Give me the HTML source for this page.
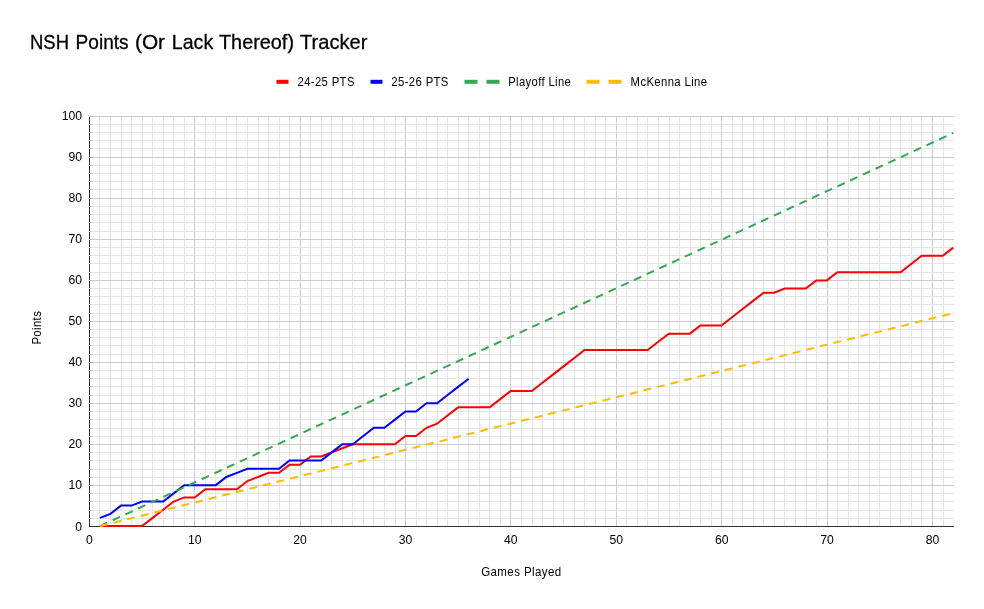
<!DOCTYPE html>
<html><head><meta charset="utf-8"><title>NSH Points Tracker</title>
<style>html,body{margin:0;padding:0;background:#fff;width:984px;height:609px;overflow:hidden}svg{display:block;position:absolute;left:0;top:0}.t{filter:grayscale(1);}</style>
</head><body><svg width="984" height="609" viewBox="0 0 984 609"><rect width="984" height="609" fill="#fff"/><rect x="89" y="116" width="1" height="410" fill="#333333"/><rect x="99" y="116" width="1" height="410" fill="#e5e5e5"/><rect x="110" y="116" width="1" height="410" fill="#e5e5e5"/><rect x="121" y="116" width="1" height="410" fill="#e5e5e5"/><rect x="131" y="116" width="1" height="410" fill="#e5e5e5"/><rect x="142" y="116" width="1" height="410" fill="#e5e5e5"/><rect x="152" y="116" width="1" height="410" fill="#e5e5e5"/><rect x="163" y="116" width="1" height="410" fill="#e5e5e5"/><rect x="173" y="116" width="1" height="410" fill="#e5e5e5"/><rect x="184" y="116" width="1" height="410" fill="#e5e5e5"/><rect x="205" y="116" width="1" height="410" fill="#e5e5e5"/><rect x="215" y="116" width="1" height="410" fill="#e5e5e5"/><rect x="226" y="116" width="1" height="410" fill="#e5e5e5"/><rect x="236" y="116" width="1" height="410" fill="#e5e5e5"/><rect x="247" y="116" width="1" height="410" fill="#e5e5e5"/><rect x="258" y="116" width="1" height="410" fill="#e5e5e5"/><rect x="268" y="116" width="1" height="410" fill="#e5e5e5"/><rect x="279" y="116" width="1" height="410" fill="#e5e5e5"/><rect x="289" y="116" width="1" height="410" fill="#e5e5e5"/><rect x="310" y="116" width="1" height="410" fill="#e5e5e5"/><rect x="321" y="116" width="1" height="410" fill="#e5e5e5"/><rect x="331" y="116" width="1" height="410" fill="#e5e5e5"/><rect x="342" y="116" width="1" height="410" fill="#e5e5e5"/><rect x="352" y="116" width="1" height="410" fill="#e5e5e5"/><rect x="363" y="116" width="1" height="410" fill="#e5e5e5"/><rect x="373" y="116" width="1" height="410" fill="#e5e5e5"/><rect x="384" y="116" width="1" height="410" fill="#e5e5e5"/><rect x="395" y="116" width="1" height="410" fill="#e5e5e5"/><rect x="416" y="116" width="1" height="410" fill="#e5e5e5"/><rect x="426" y="116" width="1" height="410" fill="#e5e5e5"/><rect x="437" y="116" width="1" height="410" fill="#e5e5e5"/><rect x="447" y="116" width="1" height="410" fill="#e5e5e5"/><rect x="458" y="116" width="1" height="410" fill="#e5e5e5"/><rect x="468" y="116" width="1" height="410" fill="#e5e5e5"/><rect x="479" y="116" width="1" height="410" fill="#e5e5e5"/><rect x="489" y="116" width="1" height="410" fill="#e5e5e5"/><rect x="500" y="116" width="1" height="410" fill="#e5e5e5"/><rect x="521" y="116" width="1" height="410" fill="#e5e5e5"/><rect x="532" y="116" width="1" height="410" fill="#e5e5e5"/><rect x="542" y="116" width="1" height="410" fill="#e5e5e5"/><rect x="553" y="116" width="1" height="410" fill="#e5e5e5"/><rect x="563" y="116" width="1" height="410" fill="#e5e5e5"/><rect x="574" y="116" width="1" height="410" fill="#e5e5e5"/><rect x="584" y="116" width="1" height="410" fill="#e5e5e5"/><rect x="595" y="116" width="1" height="410" fill="#e5e5e5"/><rect x="605" y="116" width="1" height="410" fill="#e5e5e5"/><rect x="626" y="116" width="1" height="410" fill="#e5e5e5"/><rect x="637" y="116" width="1" height="410" fill="#e5e5e5"/><rect x="647" y="116" width="1" height="410" fill="#e5e5e5"/><rect x="658" y="116" width="1" height="410" fill="#e5e5e5"/><rect x="669" y="116" width="1" height="410" fill="#e5e5e5"/><rect x="679" y="116" width="1" height="410" fill="#e5e5e5"/><rect x="690" y="116" width="1" height="410" fill="#e5e5e5"/><rect x="700" y="116" width="1" height="410" fill="#e5e5e5"/><rect x="711" y="116" width="1" height="410" fill="#e5e5e5"/><rect x="732" y="116" width="1" height="410" fill="#e5e5e5"/><rect x="742" y="116" width="1" height="410" fill="#e5e5e5"/><rect x="753" y="116" width="1" height="410" fill="#e5e5e5"/><rect x="763" y="116" width="1" height="410" fill="#e5e5e5"/><rect x="774" y="116" width="1" height="410" fill="#e5e5e5"/><rect x="784" y="116" width="1" height="410" fill="#e5e5e5"/><rect x="795" y="116" width="1" height="410" fill="#e5e5e5"/><rect x="806" y="116" width="1" height="410" fill="#e5e5e5"/><rect x="816" y="116" width="1" height="410" fill="#e5e5e5"/><rect x="837" y="116" width="1" height="410" fill="#e5e5e5"/><rect x="848" y="116" width="1" height="410" fill="#e5e5e5"/><rect x="858" y="116" width="1" height="410" fill="#e5e5e5"/><rect x="869" y="116" width="1" height="410" fill="#e5e5e5"/><rect x="879" y="116" width="1" height="410" fill="#e5e5e5"/><rect x="890" y="116" width="1" height="410" fill="#e5e5e5"/><rect x="900" y="116" width="1" height="410" fill="#e5e5e5"/><rect x="911" y="116" width="1" height="410" fill="#e5e5e5"/><rect x="921" y="116" width="1" height="410" fill="#e5e5e5"/><rect x="943" y="116" width="1" height="410" fill="#e5e5e5"/><rect x="194" y="116" width="1" height="410" fill="#cccccc"/><rect x="300" y="116" width="1" height="410" fill="#cccccc"/><rect x="405" y="116" width="1" height="410" fill="#cccccc"/><rect x="510" y="116" width="1" height="410" fill="#cccccc"/><rect x="616" y="116" width="1" height="410" fill="#cccccc"/><rect x="721" y="116" width="1" height="410" fill="#cccccc"/><rect x="827" y="116" width="1" height="410" fill="#cccccc"/><rect x="932" y="116" width="1" height="410" fill="#cccccc"/><rect x="89" y="518" width="865" height="1" fill="#e5e5e5"/><rect x="89" y="510" width="865" height="1" fill="#e5e5e5"/><rect x="89" y="501" width="865" height="1" fill="#e5e5e5"/><rect x="89" y="493" width="865" height="1" fill="#e5e5e5"/><rect x="89" y="477" width="865" height="1" fill="#e5e5e5"/><rect x="89" y="469" width="865" height="1" fill="#e5e5e5"/><rect x="89" y="460" width="865" height="1" fill="#e5e5e5"/><rect x="89" y="452" width="865" height="1" fill="#e5e5e5"/><rect x="89" y="436" width="865" height="1" fill="#e5e5e5"/><rect x="89" y="428" width="865" height="1" fill="#e5e5e5"/><rect x="89" y="419" width="865" height="1" fill="#e5e5e5"/><rect x="89" y="411" width="865" height="1" fill="#e5e5e5"/><rect x="89" y="395" width="865" height="1" fill="#e5e5e5"/><rect x="89" y="386" width="865" height="1" fill="#e5e5e5"/><rect x="89" y="378" width="865" height="1" fill="#e5e5e5"/><rect x="89" y="370" width="865" height="1" fill="#e5e5e5"/><rect x="89" y="354" width="865" height="1" fill="#e5e5e5"/><rect x="89" y="345" width="865" height="1" fill="#e5e5e5"/><rect x="89" y="337" width="865" height="1" fill="#e5e5e5"/><rect x="89" y="329" width="865" height="1" fill="#e5e5e5"/><rect x="89" y="313" width="865" height="1" fill="#e5e5e5"/><rect x="89" y="304" width="865" height="1" fill="#e5e5e5"/><rect x="89" y="296" width="865" height="1" fill="#e5e5e5"/><rect x="89" y="288" width="865" height="1" fill="#e5e5e5"/><rect x="89" y="272" width="865" height="1" fill="#e5e5e5"/><rect x="89" y="263" width="865" height="1" fill="#e5e5e5"/><rect x="89" y="255" width="865" height="1" fill="#e5e5e5"/><rect x="89" y="247" width="865" height="1" fill="#e5e5e5"/><rect x="89" y="231" width="865" height="1" fill="#e5e5e5"/><rect x="89" y="222" width="865" height="1" fill="#e5e5e5"/><rect x="89" y="214" width="865" height="1" fill="#e5e5e5"/><rect x="89" y="206" width="865" height="1" fill="#e5e5e5"/><rect x="89" y="189" width="865" height="1" fill="#e5e5e5"/><rect x="89" y="181" width="865" height="1" fill="#e5e5e5"/><rect x="89" y="173" width="865" height="1" fill="#e5e5e5"/><rect x="89" y="165" width="865" height="1" fill="#e5e5e5"/><rect x="89" y="148" width="865" height="1" fill="#e5e5e5"/><rect x="89" y="140" width="865" height="1" fill="#e5e5e5"/><rect x="89" y="132" width="865" height="1" fill="#e5e5e5"/><rect x="89" y="124" width="865" height="1" fill="#e5e5e5"/><rect x="89" y="485" width="865" height="1" fill="#cccccc"/><rect x="89" y="444" width="865" height="1" fill="#cccccc"/><rect x="89" y="403" width="865" height="1" fill="#cccccc"/><rect x="89" y="362" width="865" height="1" fill="#cccccc"/><rect x="89" y="321" width="865" height="1" fill="#cccccc"/><rect x="89" y="280" width="865" height="1" fill="#cccccc"/><rect x="89" y="239" width="865" height="1" fill="#cccccc"/><rect x="89" y="198" width="865" height="1" fill="#cccccc"/><rect x="89" y="157" width="865" height="1" fill="#cccccc"/><rect x="89" y="116" width="865" height="1" fill="#cccccc"/><rect x="89" y="526" width="865" height="1" fill="#333333"/><polyline points="99.94,526.10 110.47,526.10 121.01,526.10 131.54,526.10 142.07,526.10 152.61,517.91 163.15,509.72 173.68,501.53 184.22,497.44 194.75,497.44 205.29,489.25 215.82,489.25 226.36,489.25 236.89,489.25 247.43,481.06 257.96,476.96 268.50,472.87 279.03,472.87 289.56,464.68 300.10,464.68 310.63,456.49 321.17,456.49 331.71,452.39 342.24,448.30 352.77,444.20 363.31,444.20 373.85,444.20 384.38,444.20 394.91,444.20 405.45,436.01 415.99,436.01 426.52,427.82 437.06,423.73 447.59,415.54 458.12,407.35 468.66,407.35 479.20,407.35 489.73,407.35 500.26,399.16 510.80,390.97 521.34,390.97 531.87,390.97 542.40,382.78 552.94,374.59 563.48,366.40 574.01,358.21 584.54,350.02 595.08,350.02 605.62,350.02 616.15,350.02 626.68,350.02 637.22,350.02 647.75,350.02 658.29,341.83 668.82,333.64 679.36,333.64 689.89,333.64 700.43,325.45 710.97,325.45 721.50,325.45 732.03,317.25 742.57,309.07 753.11,300.88 763.64,292.69 774.17,292.69 784.71,288.59 795.25,288.59 805.78,288.59 816.31,280.40 826.85,280.40 837.38,272.21 847.92,272.21 858.46,272.21 868.99,272.21 879.52,272.21 890.06,272.21 900.60,272.21 911.13,264.02 921.66,255.83 932.20,255.83 942.74,255.83 953.27,247.64" fill="none" stroke="#ff0000" stroke-width="2"/><polyline points="99.94,517.91 110.47,513.82 121.01,505.62 131.54,505.62 142.07,501.53 152.61,501.53 163.15,501.53 173.68,493.34 184.22,485.15 194.75,485.15 205.29,485.15 215.82,485.15 226.36,476.96 236.89,472.87 247.43,468.77 257.96,468.77 268.50,468.77 279.03,468.77 289.56,460.58 300.10,460.58 310.63,460.58 321.17,460.58 331.71,452.39 342.24,444.20 352.77,444.20 363.31,436.01 373.85,427.82 384.38,427.82 394.91,419.63 405.45,411.44 415.99,411.44 426.52,403.25 437.06,403.25 447.59,395.06 458.12,386.87 468.66,378.68" fill="none" stroke="#0000ff" stroke-width="2"/><polyline points="99.94,526.10 953.27,132.98" fill="none" stroke="#34a853" stroke-width="2" stroke-dasharray="8 6"/><polyline points="99.94,526.10 953.27,313.16" fill="none" stroke="#fbbc04" stroke-width="2" stroke-dasharray="8 6"/><rect x="276.5" y="79.8" width="12" height="4" fill="#ff0000"/><rect x="370.5" y="79.8" width="12" height="4" fill="#0000ff"/><rect x="464.5" y="79.8" width="13" height="4" fill="#34a853"/><rect x="486.5" y="79.8" width="13" height="4" fill="#34a853"/><rect x="586.5" y="79.8" width="13" height="4" fill="#fbbc04"/><rect x="608.5" y="79.8" width="13" height="4" fill="#fbbc04"/></svg><svg class="t" width="984" height="609" viewBox="0 0 984 609" font-family="Liberation Sans, Arial, sans-serif"><text x="82" y="531.1" text-anchor="end" font-size="12.2" fill="#000">0</text><text x="82" y="489.1" text-anchor="end" font-size="12.2" fill="#000">10</text><text x="82" y="448.1" text-anchor="end" font-size="12.2" fill="#000">20</text><text x="82" y="407.1" text-anchor="end" font-size="12.2" fill="#000">30</text><text x="82" y="366.1" text-anchor="end" font-size="12.2" fill="#000">40</text><text x="82" y="325.1" text-anchor="end" font-size="12.2" fill="#000">50</text><text x="82" y="284.1" text-anchor="end" font-size="12.2" fill="#000">60</text><text x="82" y="243.1" text-anchor="end" font-size="12.2" fill="#000">70</text><text x="82" y="202.1" text-anchor="end" font-size="12.2" fill="#000">80</text><text x="82" y="161.1" text-anchor="end" font-size="12.2" fill="#000">90</text><text x="82" y="120.1" text-anchor="end" font-size="12.2" fill="#000">100</text><text x="89.35" y="544" text-anchor="middle" font-size="12.2" fill="#000">0</text><text x="194.74" y="544" text-anchor="middle" font-size="12.2" fill="#000">10</text><text x="300.12" y="544" text-anchor="middle" font-size="12.2" fill="#000">20</text><text x="405.51" y="544" text-anchor="middle" font-size="12.2" fill="#000">30</text><text x="510.89" y="544" text-anchor="middle" font-size="12.2" fill="#000">40</text><text x="616.28" y="544" text-anchor="middle" font-size="12.2" fill="#000">50</text><text x="721.66" y="544" text-anchor="middle" font-size="12.2" fill="#000">60</text><text x="827.05" y="544" text-anchor="middle" font-size="12.2" fill="#000">70</text><text x="932.43" y="544" text-anchor="middle" font-size="12.2" fill="#000">80</text><text y="49" font-size="21" fill="#000" stroke="#000" stroke-width="0.3"><tspan x="30.0" textLength="39.0" lengthAdjust="spacingAndGlyphs">NSH</tspan> <tspan x="75.6" textLength="53.0" lengthAdjust="spacingAndGlyphs">Points</tspan> <tspan x="135.0" textLength="30.0" lengthAdjust="spacingAndGlyphs">(Or</tspan> <tspan x="171.8" textLength="41.4" lengthAdjust="spacingAndGlyphs">Lack</tspan> <tspan x="219.0" textLength="75.0" lengthAdjust="spacingAndGlyphs">Thereof)</tspan> <tspan x="300.0" textLength="67.4" lengthAdjust="spacingAndGlyphs">Tracker</tspan></text><text x="481.2" y="576" font-size="12.2" fill="#000" letter-spacing="0.4" textLength="80.3" lengthAdjust="spacingAndGlyphs">Games Played</text><text transform="translate(41,344.6) rotate(-90)" font-size="12.2" fill="#000" letter-spacing="0.4" textLength="33.8" lengthAdjust="spacingAndGlyphs">Points</text><text x="297.5" y="86" font-size="12.2" fill="#000" letter-spacing="0.4" textLength="57.3" lengthAdjust="spacingAndGlyphs">24-25 PTS</text><text x="391.3" y="86" font-size="12.2" fill="#000" letter-spacing="0.4" textLength="57.5" lengthAdjust="spacingAndGlyphs">25-26 PTS</text><text x="508.2" y="86" font-size="12.2" fill="#000" letter-spacing="0.4" textLength="63.0" lengthAdjust="spacingAndGlyphs">Playoff Line</text><text x="630.6" y="86" font-size="12.2" fill="#000" letter-spacing="0.4" textLength="76.8" lengthAdjust="spacingAndGlyphs">McKenna Line</text></svg></body></html>
